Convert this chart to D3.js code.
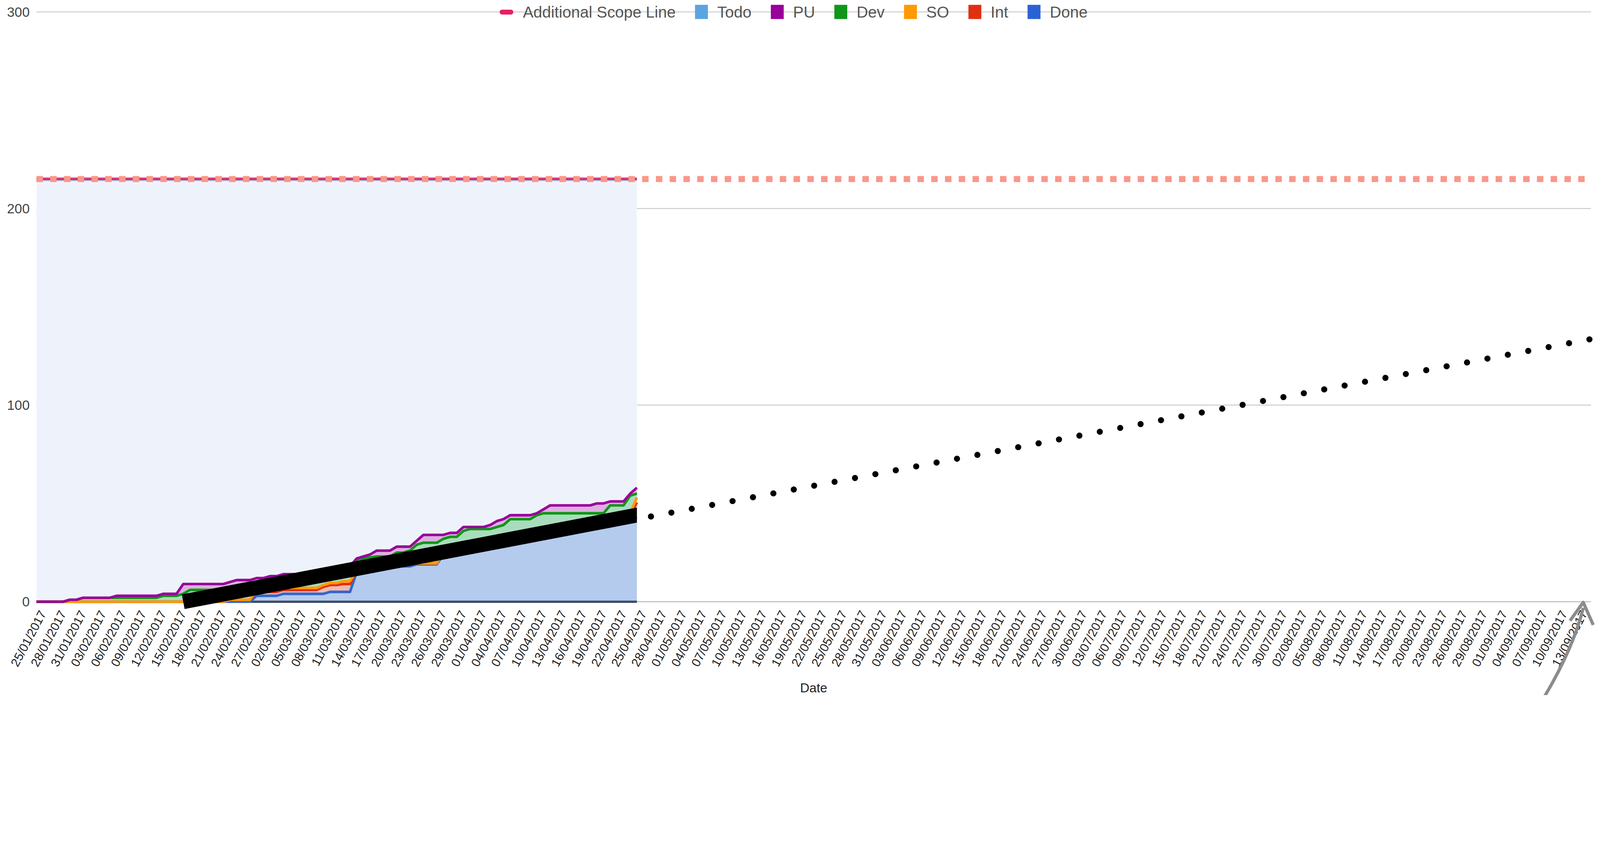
<!DOCTYPE html>
<html>
<head>
<meta charset="utf-8">
<script src="https://cdn.jsdelivr.net/npm/d3@7"></script>
<style>
  html, body { margin: 0; padding: 0; background: #fff; overflow: hidden; }
  #chart { display: block; width: 100vw; height: auto; }
  svg text { font-family: "Liberation Sans", Arial, Helvetica, sans-serif; }
</style>
</head>
<body>
<svg id="chart" viewBox="0 0 4963 2155" preserveAspectRatio="xMidYMid meet"></svg>
<script>
// burn-up data, one value per day from 25/01/2017 to 25/04/2017
const firstDay = "2017-01-25";
const lastDataDay = "2017-04-25";
const lastAxisDay = "2017-09-15";

const done = [0,0,0,0,0,0,0,0,0,0,0,0,0,0,0,0,0,0,0,0,0,0,0,0,0,0,0,0,0,0,0,0,0,
  3,3,3,3, 4,4,4,4,4,4,4, 5,5,5,5,
  15,15,16,16,17,17,18,18,18,19,19,19,19,
  24,24,25,26,26,27,28,28,29,30,30,31,32,32,33,34,34,35,36,36,37,38,38,39,40,40,41,41,42,43];
const integ = [0,0,0,0,0,0,0,0,0,0,0,0,0,0,0,0,0,0,0,0,0,0,0,0,0,0,0,0,0,
  1,1,1,1, 2,2,2,2,2,2,2,2,2,2, 3.5,3.5,3.5, 4,4,
  1,1,1,1,1,1,1,1,1, 0.5,0.5,0.5,0.5,
  1,1,1,1,1,1,1,1,1,1,1,1,1,1,1,1,1,1,1,1,1,1,1,1,1,1,1,1, 2, 7.5];
const so = [0,0,0,0,0,0,0,0,0,0,0,0,0,0,0,0,0,0,0,0,0,0,0,0,0,0,0,0,0,0,0,0,0,
  1,1,1,1,1,1,1,1,1,1,1,1,1, 1.5,1.5,
  0,0,0,0,0,0,0,0,0,0,0,0,0,0,0,0,0,0,0,0,0,0,0,0,0,0,0,0,0,0,0,0,0,0,0,0,0,0,0,0,0, 1, 2.5];
const dev = [0,0,0,0,0, 1,1, 2,2,2,2,2,2,2,2,2,2,2,2, 3,3,3, 4, 6,6,6,6,6,6,6,6,6,6,
  3,3,3,3, 4,4,4,4, 6,6,
  4.5,3.5,5.5,4.5,7.5,5,6,5.5,6,5,5,6,6,7,9.5, 10.5,10.5,10.5,
  7,8,7,9,10,9, 8,8,8,8, 11,10,9,9, 10,10,10, 9,8,8,7,6,6,5,4, 8,7,7,9,2];
const pu = [0,0,0,0,0,0,0,0,0,0,0,0, 1,1,1,1,1,1,1,1,1,1, 5, 3,3,3,3,3,3,3, 4,4,4, 3,3, 4,4,
  3,3,3,3, 2,2,2,2, 1,1, 0,
  1,1,1.5, 3,3,3,3,3, 2,2, 4,4,4, 2,2,2,2, 1,1,1, 2,3,3, 2,2,2,2, 1,2, 4,4,4,4,4,4,4, 5,5, 2,2,2, 1,3];
const todo = [215,215,215,215,215, 214,214, 213,213,213,213,213, 212,212,212,212,212,212,212,
  211,211,211, 206,206,206,206,206,206,206, 205, 204,204,204, 203,203, 202,202,
  201,201,201,201, 200,200,200,200, 199,199, 197, 193, 192, 191, 189,189,189, 187,187,187,
  184, 181,181,181,181, 180,180, 177,177,177,177, 176, 174, 173, 171,171,171,171, 170, 168,
  166,166,166,166,166,166,166, 165,165, 164,164,164, 160, 157];

const scopeValue = 215;
// ideal line (solid) and forecast (dotted)
const idealDates = ["2017-02-16", "2017-04-28"];
const idealValues = [0, 46];
const forecastDates = ["2017-04-25", "2017-09-15"];
const forecastValues = [42, 133.6];

const yTicks = [0, 100, 200, 300];
const seriesKeys = ["done", "integ", "so", "dev", "pu", "todo"];
const lineColors = {done: "#3366cc", integ: "#e0300f", so: "#ff9900", dev: "#109618", pu: "#990099", todo: "#9fb6d6"};
const fillColors = {done: "#b4cbee", integ: "#f1b9b2", so: "#fbd29b", dev: "#a9dcbc", pu: "#dcb0df", todo: "#eef3fb"};
const legendItems = [
  {name: "Additional Scope Line", color: "#e91e63", type: "line"},
  {name: "Todo", color: "#5ba4e0"},
  {name: "PU", color: "#990099"},
  {name: "Dev", color: "#109618"},
  {name: "SO", color: "#ff9900"},
  {name: "Int", color: "#e0300f"},
  {name: "Done", color: "#2a62d4"}
];

const parse = d3.timeParse("%Y-%m-%d");
const fmt = d3.timeFormat("%d/%m/%Y");
const svg = d3.select("#chart");

const plotLeft = 113, plotRight = 4935, plotTop = 37, plotBottom = 1866;
const x = d3.scaleTime().domain([parse(firstDay), parse(lastAxisDay)]).range([plotLeft, plotRight]);
const y = d3.scaleLinear().domain([0, 300]).range([plotBottom, plotTop]);

const days = d3.timeDay.range(parse(firstDay), d3.timeDay.offset(parse(lastDataDay), 1));
const rows = days.map(function (d, i) {
  return {date: d, done: done[i], integ: integ[i], so: so[i], dev: dev[i], pu: pu[i], todo: todo[i]};
});

// gridlines
svg.append("g").selectAll("line").data(yTicks).join("line")
  .attr("x1", plotLeft).attr("x2", plotRight)
  .attr("y1", d => y(d)).attr("y2", d => y(d))
  .style("stroke", d => d === 0 ? "#aebfd2" : "#cccccc")
  .style("stroke-width", 3);

svg.append("g").selectAll("text").data(yTicks).join("text")
  .attr("x", 92).attr("y", d => y(d))
  .attr("text-anchor", "end").attr("dominant-baseline", "central")
  .style("font-size", "42px").style("fill", "#444")
  .text(d => d);

// stacked areas
const stack = d3.stack().keys(seriesKeys);
const layers = stack(rows);
const area = d3.area()
  .x(d => x(d.data.date))
  .y0(d => y(d[0]))
  .y1(d => y(d[1]));
const topLine = d3.line()
  .x(d => x(d.data.date))
  .y(d => y(d[1]));

svg.append("g").selectAll("path").data(layers).join("path")
  .attr("d", area)
  .style("fill", d => fillColors[d.key]);

// dark baseline under the data
svg.append("line")
  .attr("x1", x(parse(firstDay))).attr("x2", x(parse(lastDataDay)))
  .attr("y1", y(0)).attr("y2", y(0))
  .style("stroke", "#3c4a68").style("stroke-width", 7);

svg.append("g").selectAll("path").data(layers).join("path")
  .attr("d", topLine)
  .style("fill", "none")
  .style("stroke", d => lineColors[d.key])
  .style("stroke-width", d => d.key === "todo" ? 12 : 8)
  .style("stroke-linejoin", "round");

// additional scope line
svg.append("line")
  .attr("x1", x(parse(firstDay))).attr("x2", x(parse(lastDataDay)))
  .attr("y1", y(scopeValue)).attr("y2", y(scopeValue))
  .style("stroke", "#e91e63").style("stroke-width", 6);
svg.append("line")
  .attr("x1", plotLeft).attr("x2", plotRight)
  .attr("y1", y(scopeValue)).attr("y2", y(scopeValue))
  .style("stroke", "#fa978a").style("stroke-width", 19)
  .style("stroke-dasharray", "20 22.7");

// ideal line, solid and clipped at the last data day
svg.append("clipPath").attr("id", "todayClip")
  .append("rect").attr("x", 0).attr("y", 0)
  .attr("width", x(parse(lastDataDay))).attr("height", 2155);
const simpleLine = d3.line().x(d => x(d[0])).y(d => y(d[1]));
svg.append("path")
  .attr("clip-path", "url(#todayClip)")
  .attr("d", simpleLine(idealDates.map((d, i) => [parse(d), idealValues[i]])))
  .style("stroke", "#000").style("stroke-width", 46).style("fill", "none");

// forecast dotted
svg.append("path")
  .attr("d", simpleLine(forecastDates.map((d, i) => [parse(d), forecastValues[i]])))
  .style("stroke", "#000").style("stroke-width", 19).style("fill", "none")
  .style("stroke-linecap", "round")
  .style("stroke-dasharray", "0 64.4").style("stroke-dashoffset", 20);

// x axis labels every third day
const tickDays = d3.timeDay.range(parse(firstDay), d3.timeDay.offset(parse(lastAxisDay), 1), 1)
  .filter((d, i) => i % 3 === 0);
svg.append("g").selectAll("text").data(tickDays).join("text")
  .attr("transform", d => "translate(" + (x(d) + 8) + ",1890) rotate(-62)")
  .attr("text-anchor", "end").attr("dy", "0.7em")
  .style("font-size", "38px").style("fill", "#222")
  .text(d => fmt(d));

svg.append("text")
  .attr("x", (plotLeft + plotRight) / 2).attr("y", 2133)
  .attr("text-anchor", "middle").attr("dominant-baseline", "central")
  .style("font-size", "40px").style("fill", "#222")
  .text("Date");

// legend
const legend = svg.append("g");
let lx = 1550;
legendItems.forEach(function (item)
{
  if (item.type === "line")
  {
    legend.append("rect").attr("x", lx).attr("y", 30).attr("width", 42).attr("height", 15)
      .attr("rx", 7).style("fill", item.color);
    lx += 72;
  }
  else
  {
    legend.append("rect").attr("x", lx).attr("y", 15).attr("width", 40).attr("height", 44)
      .style("fill", item.color);
    lx += 69;
  }
  const t = legend.append("text").attr("x", lx).attr("y", 37)
    .attr("dominant-baseline", "central")
    .style("font-size", "49px").style("fill", "#555")
    .text(item.name);
  lx += t.node().getComputedTextLength() + 60;
});

// hand drawn pointer arrow at bottom right
svg.append("path")
  .attr("d", "M4791,2160 Q4880,2010 4911,1885")
  .style("fill", "none").style("stroke", "#8c8c8c").style("stroke-width", 10);
svg.append("path")
  .attr("d", "M4870,1925 L4911,1868 L4942,1938")
  .style("fill", "none").style("stroke", "#8c8c8c").style("stroke-width", 10)
  .style("stroke-linejoin", "round");
</script>
</body>
</html>
